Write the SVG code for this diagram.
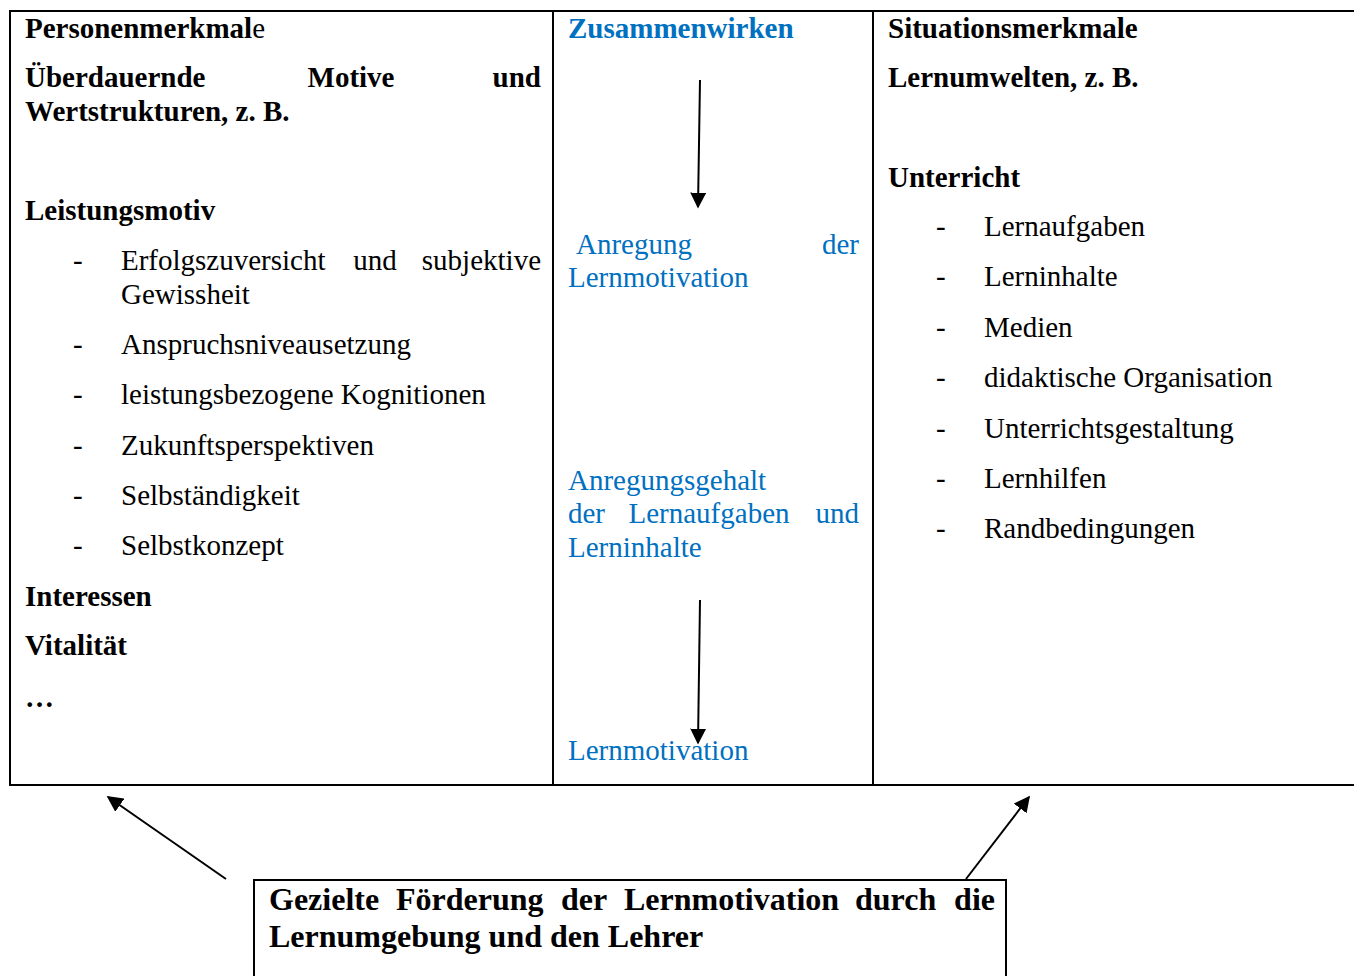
<svg xmlns="http://www.w3.org/2000/svg" width="1354" height="976" viewBox="0 0 1354 976">
<style>
text{font-family:"Liberation Serif","Times New Roman",serif;font-size:29px;fill:#000}
.b{font-weight:bold}
.big{font-size:32px}
.blue{fill:#0070C0}
.ln{stroke:#000;stroke-width:2;fill:none}
</style>
<defs>
<marker id="ah2" viewBox="0 0 10 10" refX="9" refY="5" markerWidth="16" markerHeight="16" markerUnits="userSpaceOnUse" orient="auto">
<path d="M0,0 L10,5 L0,10 z" fill="#000"/>
</marker>
</defs>
<rect width="1354" height="976" fill="#fff"/>
<g id="table">
<path class="ln" d="M1354,11 H10 V785 H1354 M553,11 V785 M873,11 V785"/>
</g>
<g id="person">
<text x="25" y="38" class="b">Personenmerkmal<tspan font-weight="normal">e</tspan></text>
<text x="25" y="87" class="b">Überdauernde</text>
<text x="351" y="87" class="b" text-anchor="middle">Motive</text>
<text x="541" y="87" class="b" text-anchor="end">und</text>
<text x="25" y="121" class="b">Wertstrukturen, z. B.</text>
<text x="25" y="220" class="b">Leistungsmotiv</text>
<text x="73" y="270">-</text><text x="121" y="270">Erfolgszuversicht</text><text x="375" y="270" text-anchor="middle">und</text><text x="541" y="270" text-anchor="end">subjektive</text>
<text x="121" y="304">Gewissheit</text>
<text x="73" y="354">-</text><text x="121" y="354">Anspruchsniveausetzung</text>
<text x="73" y="404">-</text><text x="121" y="404">leistungsbezogene Kognitionen</text>
<text x="73" y="455">-</text><text x="121" y="455">Zukunftsperspektiven</text>
<text x="73" y="505">-</text><text x="121" y="505">Selbständigkeit</text>
<text x="73" y="555">-</text><text x="121" y="555">Selbstkonzept</text>
<text x="25" y="606" class="b">Interessen</text>
<text x="25" y="655" class="b">Vitalität</text>
<text x="25" y="707" class="b">…</text>
</g>
<g id="zusammenwirken">
<text x="568" y="38" class="b blue">Zusammenwirken</text>
<text x="576" y="254" class="blue">Anregung</text>
<text x="859" y="254" class="blue" text-anchor="end">der</text>
<text x="568" y="287" class="blue">Lernmotivation</text>
<text x="568" y="490" class="blue">Anregungsgehalt</text>
<text x="568" y="523" class="blue">der</text>
<text x="709" y="523" class="blue" text-anchor="middle">Lernaufgaben</text>
<text x="859" y="523" class="blue" text-anchor="end">und</text>
<text x="568" y="557" class="blue">Lerninhalte</text>
<text x="568" y="760" class="blue">Lernmotivation</text>
</g>
<g id="situation">
<text x="888" y="38" class="b">Situationsmerkmale</text>
<text x="888" y="87" class="b">Lernumwelten, z. B.</text>
<text x="888" y="187" class="b">Unterricht</text>
<text x="936" y="236">-</text><text x="984" y="236">Lernaufgaben</text>
<text x="936" y="286">-</text><text x="984" y="286">Lerninhalte</text>
<text x="936" y="337">-</text><text x="984" y="337">Medien</text>
<text x="936" y="387">-</text><text x="984" y="387">didaktische Organisation</text>
<text x="936" y="438">-</text><text x="984" y="438">Unterrichtsgestaltung</text>
<text x="936" y="488">-</text><text x="984" y="488">Lernhilfen</text>
<text x="936" y="538">-</text><text x="984" y="538">Randbedingungen</text>
</g>
<g id="foerderung">
<path class="ln" d="M254,976 V880 H1006 V976"/>
<text x="269" y="910" class="b big">Gezielte</text>
<text x="396" y="910" class="b big">Förderung</text>
<text x="561" y="910" class="b big">der</text>
<text x="624" y="910" class="b big">Lernmotivation</text>
<text x="855" y="910" class="b big">durch</text>
<text x="995" y="910" class="b big" text-anchor="end">die</text>
<text x="269" y="947" class="b big">Lernumgebung und den Lehrer</text>
</g>
<g id="connectors">
<line class="ln" x1="700" y1="80" x2="698" y2="207" marker-end="url(#ah2)"/>
<line class="ln" x1="700" y1="600" x2="698" y2="743" marker-end="url(#ah2)"/>
<line class="ln" x1="226" y1="879" x2="108" y2="797" marker-end="url(#ah2)"/>
<line class="ln" x1="966" y1="879" x2="1029" y2="797" marker-end="url(#ah2)"/>
</g>
</svg>
